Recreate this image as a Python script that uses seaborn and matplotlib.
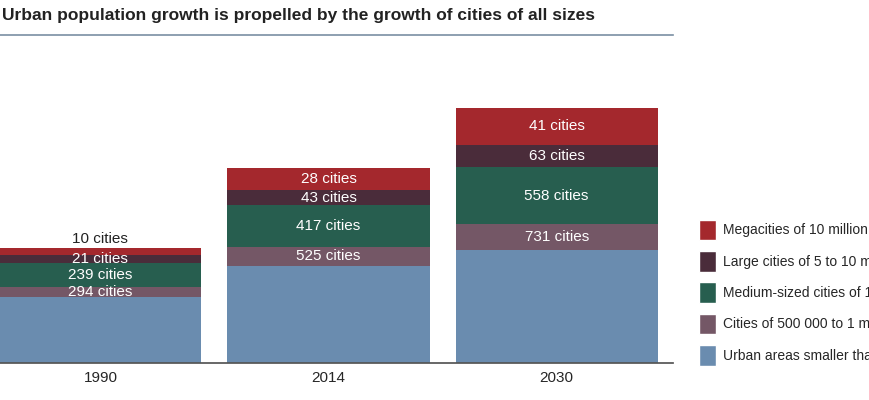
import matplotlib
matplotlib.use("Agg")
import matplotlib.pyplot as plt
import seaborn as sns
import numpy as np
from matplotlib.patches import Patch

sns.set_theme(style="white")
plt.rcParams['font.family'] = ['Liberation Sans Narrow', 'Liberation Sans', 'DejaVu Sans']

years = ["1990", "2014", "2030"]
series = ["Urban areas smaller than 500 000", "Cities of 500 000 to 1 million",
          "Medium-sized cities of 1 to 5 million", "Large cities of 5 to 10 million",
          "Megacities of 10 million or more"]
small = [66, 97, 113]
cities_500k = [10, 19, 26]
medium = [24, 42, 57]
large = [8, 15, 22]
mega = [7, 22, 37]
labels_500k = ["294 cities", "525 cities", "731 cities"]
labels_medium = ["239 cities", "417 cities", "558 cities"]
labels_large = ["21 cities", "43 cities", "63 cities"]
labels_mega = ["10 cities", "28 cities", "41 cities"]
colors = ["#6a8caf", "#745766", "#275e4f", "#4a2c3a", "#a4282d"]

fig = plt.figure(figsize=(8.7, 4), dpi=100)
ax = fig.add_axes([0, 0.0925, 0.7736, 0.82])
layers = [small, cities_500k, medium, large, mega]
lab = [None, labels_500k, labels_medium, labels_large, labels_mega]
bottom = np.zeros(3)
x = np.arange(3)
for vals, col, lb in zip(layers, colors, lab):
    vals = np.array(vals, float)
    ax.bar(x, vals, bottom=bottom, width=0.886, color=col, edgecolor="none")
    if lb is not None:
        for i in range(3):
            if lb is labels_mega and i == 0:
                ax.text(x[i], bottom[i] + vals[i] + 2, lb[i], ha="center", va="bottom",
                        color="#222222", fontsize=11)
            else:
                ax.text(x[i], bottom[i] + vals[i] / 2, lb[i], ha="center", va="center",
                        color="white", fontsize=11)
    bottom += vals

ax.set_xlim(-0.44, 2.51)
ax.set_ylim(0, 328)
ax.set_xticks(x)
ax.set_xticklabels(years, fontsize=11)
ax.set_yticks([])
for s in ["left", "right"]:
    ax.spines[s].set_visible(False)
ax.spines["bottom"].set_color("#555555")
ax.spines["top"].set_color("#7a8fa3")
ax.spines["top"].set_linewidth(1.2)
ax.tick_params(axis="x", length=0, pad=6)

fig.text(0.002, 0.962, "Urban population growth is propelled by the growth of cities of all sizes",
         fontsize=12.5, fontweight="bold", ha="left", va="center", color="#222222")

handles = [Patch(facecolor=c, label=s) for c, s in zip(colors[::-1], series[::-1])]
fig.legend(handles=handles, loc="upper left", bbox_to_anchor=(0.797, 0.465), frameon=False,
           fontsize=10, handlelength=1.2, handleheight=1.9, labelspacing=0.78, handletextpad=0.5,
           borderaxespad=0)
fig.savefig("out.png", dpi=100)
